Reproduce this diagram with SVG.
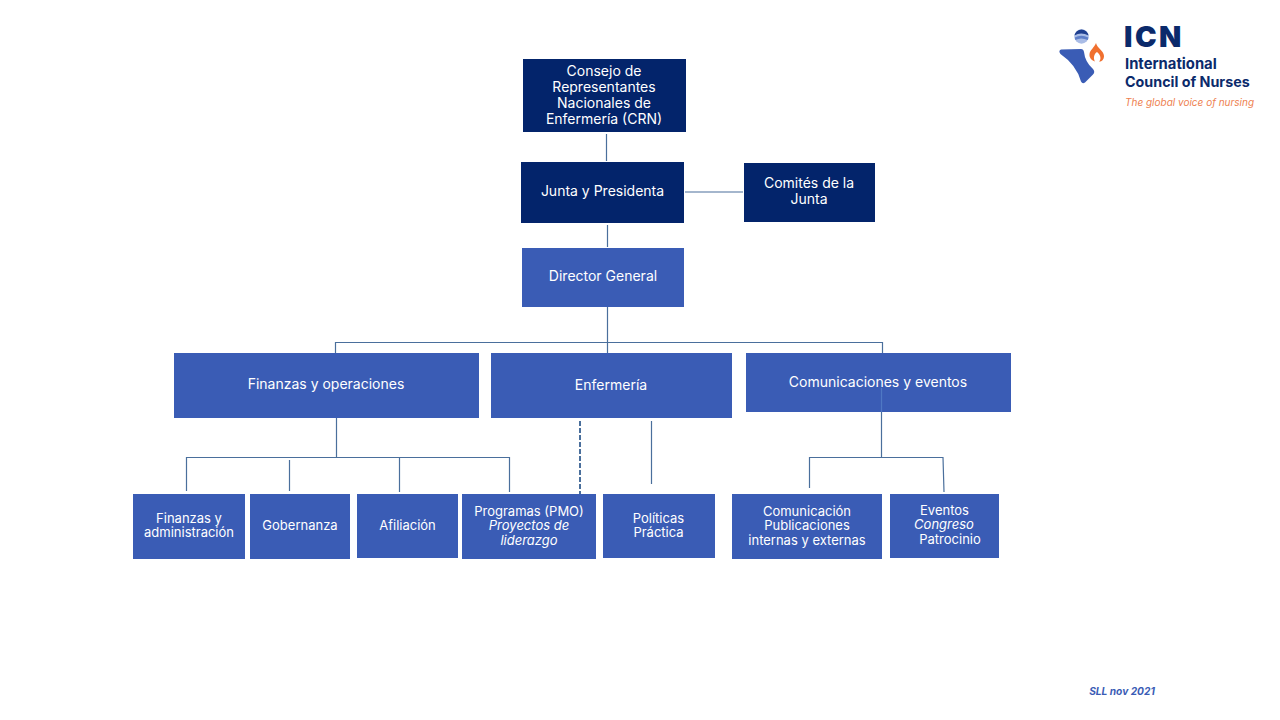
<svg xmlns="http://www.w3.org/2000/svg" width="1280" height="720" viewBox="0 0 1280 720">
<style>
text{font-family:"Inter","Noto Sans",sans-serif;fill:#fff;font-size:13px;text-anchor:middle}
.big{font-size:14px}
.i{font-style:italic}
.d{fill:#03246b}.m{fill:#3a5cb5}
.c{stroke:#4a6f9c;stroke-width:1.2;fill:none}
.logo{text-anchor:start;fill:#0b2a6b;font-weight:700}
</style>
<rect width="1280" height="720" fill="#fff"/>
<g id="n-crn"><rect class="d" x="523" y="59" width="163" height="73"/><text class="big" x="604" y="76">Consejo de</text><text class="big" x="604" y="92">Representantes</text><text class="big" x="604" y="108">Nacionales de</text><text class="big" x="604" y="124">Enfermería (CRN)</text></g>
<g id="n-junta"><rect class="d" x="521" y="162" width="163" height="61"/><text class="big" x="602.500" y="196">Junta y Presidenta</text></g>
<g id="n-comites"><rect class="d" x="744" y="163" width="131" height="59"/><text class="big" x="809" y="188">Comités de la</text><text class="big" x="809" y="204">Junta</text></g>
<g id="n-dg"><rect class="m" x="522" y="248" width="162" height="59"/><text class="big" x="603" y="281">Director General</text></g>
<g id="n-fin"><rect class="m" x="174" y="353" width="305" height="65"/><text class="big" x="326" y="389">Finanzas y operaciones</text></g>
<g id="n-enf"><rect class="m" x="491" y="353" width="241" height="65"/><text class="big" x="611" y="390">Enfermería</text></g>
<g id="n-com"><rect class="m" x="746" y="353" width="265" height="59"/><text class="big" x="878" y="387">Comunicaciones y eventos</text></g>
<g id="n-finadm"><rect class="m" x="133" y="494" width="112" height="65"/><text x="189" y="523">Finanzas y</text><text x="189" y="537">administración</text></g>
<g id="n-gob"><rect class="m" x="250" y="494" width="100" height="65"/><text x="300" y="530">Gobernanza</text></g>
<g id="n-afi"><rect class="m" x="357" y="494" width="101" height="64"/><text x="407.500" y="530">Afiliación</text></g>
<g id="n-pmo"><rect class="m" x="462" y="494" width="134" height="65"/><text x="529" y="516">Programas (PMO)</text><text class="i" x="529" y="530">Proyectos de</text><text class="i" x="529" y="545">liderazgo</text></g>
<g id="n-pol"><rect class="m" x="603" y="494" width="112" height="64"/><text x="658.500" y="523">Políticas</text><text x="658.500" y="537">Práctica</text></g>
<g id="n-comu"><rect class="m" x="732" y="494" width="150" height="65"/><text x="807" y="516">Comunicación</text><text x="807" y="530">Publicaciones</text><text x="807" y="545">internas y externas</text></g>
<g id="n-ev"><rect class="m" x="890" y="494" width="109" height="64"/><text x="944.500" y="515">Eventos</text><text class="i" x="944" y="529">Congreso</text><text x="950" y="544">Patrocinio</text></g>
<g id="connectors">
<path class="c" d="M606.500 134V161M685 192H743M607.500 225V247M607.500 307V353M335.500 353V342.500H882.500V353M336.500 418V457.500M186.500 491V457.500H509.500V492M289.500 460V491M399.500 458V492M651.500 421V484M809.500 488V457.500H943L944 492M881.500 412V457.500"/>
<path d="M881.500 388V412" stroke="#4f78c4" stroke-width="1.200" fill="none"/>
<path d="M580 421V494" stroke="#4a6f9c" stroke-width="2" stroke-dasharray="5 2" fill="none"/>
</g>
<g id="logo">
<circle cx="1081.500" cy="36.500" r="7.200" fill="#a9bce6"/>
<path d="M1074.400 35.500A7.200 7.200 0 0 1 1088.600 35.500Q1081 31.500 1074.400 35.500Z" fill="#1f3f8f"/>
<path d="M1074.800 37.500Q1081 34 1088.400 37.500L1087.800 40Q1081 37 1075.300 40Z" fill="#5f7fc9"/>
<path d="M1061 49.500L1081 49Q1083.500 49 1084 52Q1085 62 1093 69Q1095.500 72 1093 74.500L1085 82.500Q1082.500 84.500 1081 81.500Q1076.500 65 1060.500 54Q1058 50.500 1061 49.500Z" fill="#3a5cb5"/>
<path d="M1096 43C1097 48 1104 51 1104 56C1104 60 1101 62 1099 61.500C1102 59 1100 54 1097 52C1094 54 1093 58 1095 61.500C1092 60.500 1089 58 1089.500 54C1090 50 1094 48 1096 43Z" fill="#f0702f"/>
<text class="logo" x="1124" y="47" style="font-size:29px;font-weight:900;letter-spacing:2.500px">ICN</text>
<text class="logo" x="1125" y="69" style="font-size:14.800px">International</text>
<text class="logo" x="1125" y="87" style="font-size:14.300px">Council of Nurses</text>
<text class="logo i" x="1125" y="106" style="font-size:10px;fill:#ee7f50;font-weight:400">The global voice of nursing</text>
</g>
<text id="footer" x="1122" y="695" class="i" style="font-size:10.200px;fill:#3a5cb5;font-weight:700">SLL nov 2021</text>
</svg>
